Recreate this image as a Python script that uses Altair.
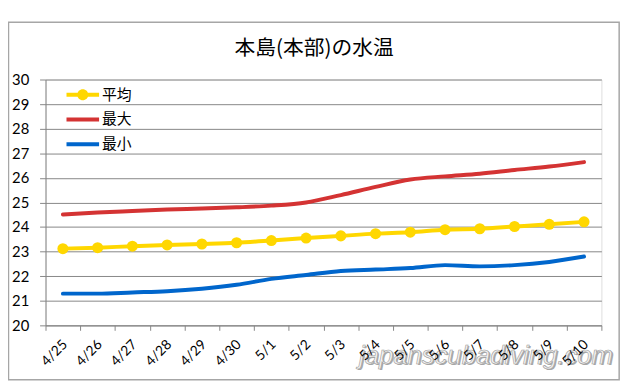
import altair as alt
import pandas as pd

dates = ["4/25", "4/26", "4/27", "4/28", "4/29", "4/30", "5/1", "5/2",
         "5/3", "5/4", "5/5", "5/6", "5/7", "5/8", "5/9", "5/10"]
avg_vals = [23.12, 23.16, 23.22, 23.27, 23.31, 23.36, 23.45, 23.55,
            23.64, 23.73, 23.79, 23.89, 23.93, 24.02, 24.11, 24.21]
max_vals = [24.51, 24.59, 24.65, 24.71, 24.75, 24.80, 24.87, 25.00,
            25.30, 25.63, 25.93, 26.06, 26.17, 26.32, 26.46, 26.64]
min_vals = [21.29, 21.29, 21.34, 21.39, 21.49, 21.65, 21.89, 22.05,
            22.21, 22.27, 22.33, 22.45, 22.40, 22.45, 22.58, 22.80]
series_names = ["平均", "最大", "最小"]
series_colors = ["#FFD700", "#D43333", "#0066CC"]
y_ticks = list(range(20, 31))
title_text = "本島(本部)の水温"
watermark_text = "japanscubadiving.com"

rows = []
for name, vals in zip(series_names, [avg_vals, max_vals, min_vals]):
    for d, v in zip(dates, vals):
        rows.append({"date": d, "series": name, "value": v})
df = pd.DataFrame(rows)

W, H = 563, 249
GRAY = "#868686"

# legend symbol paths (unit = sqrt(size)/2)
path_avg = ("M-2,-0.24L2,-0.24L2,0.24L-2,0.24Z "
            "M-0.68,0A0.68,0.68 0 1,1 0.68,0A0.68,0.68 0 1,1 -0.68,0Z")
path_line = "M-2,-0.24L2,-0.24L2,0.24L-2,0.24Z"

color_scale = alt.Scale(domain=series_names, range=series_colors)
shape_scale = alt.Scale(domain=series_names, range=[path_avg, path_line, path_line])

legend = alt.Legend(
    title=None, orient="none", legendX=29.25, legendY=7,
    symbolSize=272.25, symbolStrokeWidth=0, symbolOffset=0,
    labelFont="Noto Sans CJK JP", labelFontSize=15, labelColor="black",
    labelOffset=11, rowPadding=8, padding=0,
)

x_enc = alt.X(
    "date:N", sort=dates,
    scale=alt.Scale(type="band", domain=dates, paddingInner=0, paddingOuter=0),
    axis=alt.Axis(
        title=None, tickBand="extent", labelAngle=315, labelAlign="right",
        labelBaseline="middle", labelPadding=12, labelOffset=2,
        labelFont="Lato", labelFontSize=14, labelColor="black",
        domainColor=GRAY, tickColor=GRAY, tickSize=5, grid=False, zindex=1,
    ),
)
y_enc = alt.Y(
    "value:Q",
    scale=alt.Scale(domain=[20, 30], nice=False, zero=False),
    axis=alt.Axis(
        title=None, values=y_ticks, labelFont="Lato", labelFontSize=15,
        labelColor="black", labelPadding=11, tickSize=6, tickColor=GRAY,
        domainColor=GRAY, gridColor=GRAY, grid=True,
    ),
)

base = alt.Chart(df)

lines = base.mark_line(interpolate="monotone", strokeWidth=4, strokeCap="round").encode(
    x=x_enc, y=y_enc,
    color=alt.Color("series:N", scale=color_scale, legend=legend),
    detail="series:N",
)

points = base.transform_filter(alt.datum.series == "平均").mark_circle(size=125, opacity=1).encode(
    x=x_enc, y=y_enc,
    color=alt.Color("series:N", scale=color_scale, legend=legend),
)

legend_layer = base.mark_point(filled=True, size=0).encode(
    x=x_enc, y=y_enc,
    color=alt.Color("series:N", scale=color_scale, legend=legend),
    shape=alt.Shape("series:N", scale=shape_scale, legend=legend),
)

one = pd.DataFrame({"a": [0]})

border = alt.Chart(one).mark_rect(filled=False, stroke="#A6A6A6", strokeWidth=1.5).encode(
    x=alt.value(-37.5), x2=alt.value(581), y=alt.value(-58), y2=alt.value(304)
)

wm_shadow = alt.Chart(one).mark_text(
    text=watermark_text, font="Liberation Sans", fontStyle="italic", fontSize=26,
    align="center", baseline="alphabetic", fill="#a8a8a8", dx=1.5, dy=1.5,
).encode(x=alt.value(446), y=alt.value(288))

wm = alt.Chart(one).mark_text(
    text=watermark_text, font="Liberation Sans", fontStyle="italic", fontSize=26,
    align="center", baseline="alphabetic", fill="#f2f2f2", stroke="#9a9a9a", strokeWidth=0.6,
).encode(x=alt.value(446), y=alt.value(288))

chart = alt.layer(border, lines, points, legend_layer, wm_shadow, wm).properties(
    width=W, height=H,
    autosize="none",
    padding={"left": 38, "top": 70, "right": 31, "bottom": 59},
    title=alt.TitleParams(
        title_text, font="Noto Sans CJK JP", fontSize=21, fontWeight="normal",
        color="black", anchor="middle", dx=-9.5, offset=-38,
    ),
).configure_view(stroke=None).configure(background="white")

chart.save("out.html", embed_options={"renderer": "svg", "actions": False})
